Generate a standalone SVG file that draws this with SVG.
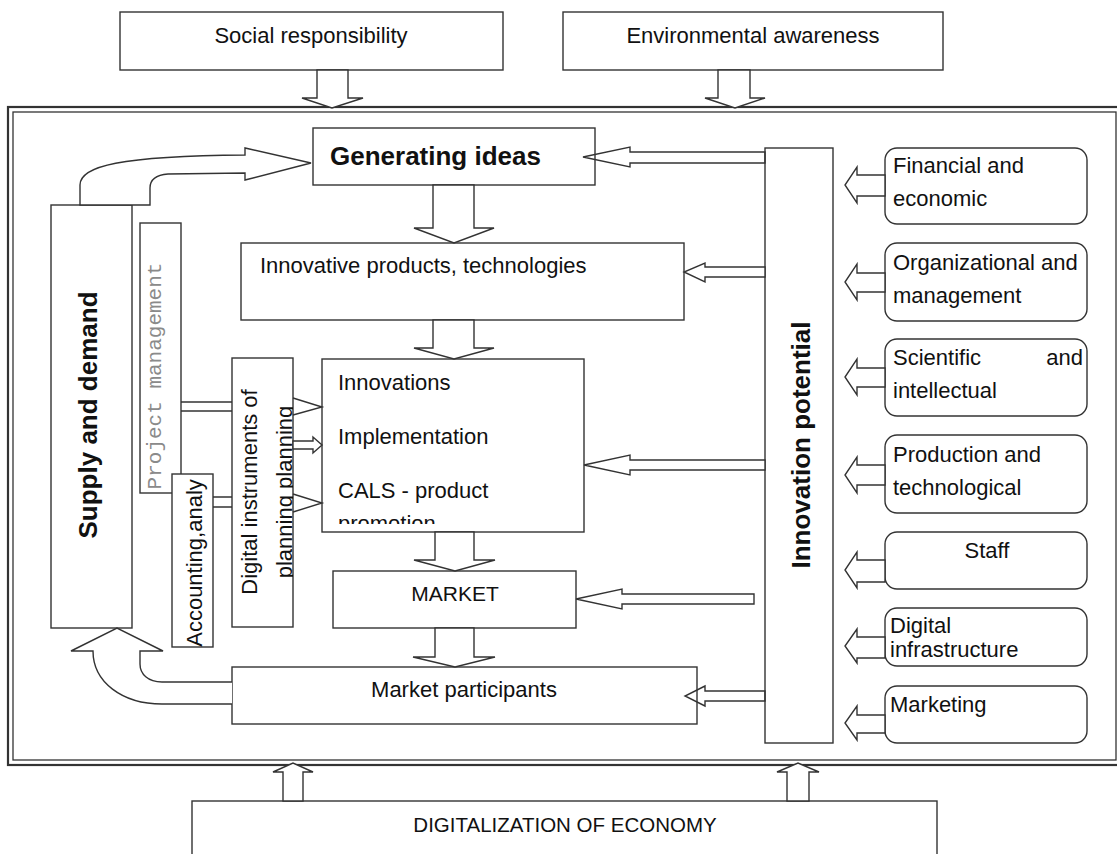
<svg xmlns="http://www.w3.org/2000/svg" width="1117" height="854" viewBox="0 0 1117 854">
<style>
.box{fill:#fff;stroke:#333;stroke-width:1.4}
.rbox{fill:#fff;stroke:#333;stroke-width:1.4}
.t{font-family:"Liberation Sans",Arial,sans-serif;font-size:22px;fill:#111}
.b{font-weight:bold;font-size:26px}
.mono{font-family:"Liberation Mono","Courier New",monospace;font-size:21px;fill:#8a8a8a}
.arr{fill:#fff;stroke:#333;stroke-width:1.4;stroke-linejoin:miter}
.arrn{fill:none;stroke:#333;stroke-width:1.4}
.ln{fill:none;stroke:#333;stroke-width:1.4}
</style>
<defs>
<clipPath id="clipDig"><rect x="232" y="358" width="61" height="269"/></clipPath>
<clipPath id="clipInn"><rect x="322" y="359" width="262" height="165"/></clipPath>
</defs>
<rect width="1117" height="854" fill="#fff"/>

<g id="frame">
<rect x="8" y="107" width="1114" height="658" fill="none" stroke="#333" stroke-width="2.2"/>
<rect x="13" y="112" width="1103" height="648" fill="none" stroke="#333" stroke-width="1.3"/>
</g>

<g id="social"><rect class="box" x="120" y="12" width="383" height="58"/><text class="t" x="311" y="43" text-anchor="middle">Social responsibility</text></g>
<g id="environmental"><rect class="box" x="563" y="12" width="380" height="58"/><text class="t" x="753" y="43" text-anchor="middle">Environmental awareness</text></g>
<g id="digitalization"><rect class="box" x="192" y="801" width="745" height="70"/><text class="t" x="565" y="832" text-anchor="middle" style="font-size:20.5px">DIGITALIZATION OF ECONOMY</text></g>

<g id="generating"><rect class="box" x="313" y="128" width="282" height="57"/><text class="t b" x="330" y="165">Generating ideas</text></g>
<g id="innovative"><rect class="box" x="241" y="243" width="443" height="77"/><text class="t" x="260" y="273">Innovative products, technologies</text></g>
<g id="innovations"><rect class="box" x="322" y="359" width="262" height="173"/>
<g clip-path="url(#clipInn)">
<text class="t" x="338" y="390">Innovations</text>
<text class="t" x="338" y="444">Implementation</text>
<text class="t" x="338" y="498">CALS - product</text>
<text class="t" x="338" y="531">promotion</text>
</g></g>
<g id="market"><rect class="box" x="333" y="571" width="243" height="57"/><text class="t" x="455" y="601" text-anchor="middle" style="font-size:21px">MARKET</text></g>
<g id="participants"><rect class="box" x="232" y="667" width="465" height="57"/><text class="t" x="464" y="697" text-anchor="middle">Market participants</text></g>

<g id="supply"><rect class="box" x="51" y="205" width="81" height="423"/><text class="t b" transform="translate(97,415) rotate(-90)" text-anchor="middle">Supply and demand</text></g>
<g id="project"><rect class="box" x="140" y="223" width="41" height="270"/><text class="mono" transform="translate(161,376) rotate(-90)" text-anchor="middle">Project management</text></g>
<g id="accounting"><rect class="box" x="172" y="474" width="41" height="173"/><text class="t" transform="translate(202,563) rotate(-90)" text-anchor="middle">Accounting,analy</text></g>
<g id="digital-instruments"><rect class="box" x="232" y="358" width="61" height="269"/>
<g clip-path="url(#clipDig)">
<text class="t" transform="translate(257,492) rotate(-90)" text-anchor="middle">Digital instruments of</text>
<text class="t" transform="translate(292,492) rotate(-90)" text-anchor="middle">planning planning</text>
</g></g>

<g id="potential"><rect class="box" x="765" y="148" width="68" height="595"/><text class="t b" transform="translate(810,445) rotate(-90)" text-anchor="middle">Innovation potential</text></g>

<g id="financial"><rect class="rbox" x="885" y="148" width="202" height="76" rx="12"/><text class="t" x="893" y="173">Financial and</text><text class="t" x="893" y="206">economic</text></g>
<g id="organizational"><rect class="rbox" x="885" y="243" width="202" height="78" rx="12"/><text class="t" x="893" y="270">Organizational and</text><text class="t" x="893" y="303">management</text></g>
<g id="scientific"><rect class="rbox" x="885" y="339" width="202" height="77" rx="12"/><text class="t" x="893" y="365">Scientific</text><text class="t" x="1083" y="365" text-anchor="end">and</text><text class="t" x="893" y="398">intellectual</text></g>
<g id="production"><rect class="rbox" x="885" y="435" width="202" height="78" rx="12"/><text class="t" x="893" y="462">Production and</text><text class="t" x="893" y="495">technological</text></g>
<g id="staff"><rect class="rbox" x="885" y="532" width="202" height="57" rx="12"/><text class="t" x="987" y="558" text-anchor="middle">Staff</text></g>
<g id="digital-infra"><rect class="rbox" x="885" y="608" width="202" height="58" rx="12"/><text class="t" x="890" y="633">Digital</text><text class="t" x="890" y="657">infrastructure</text></g>
<g id="marketing"><rect class="rbox" x="885" y="686" width="202" height="57" rx="12"/><text class="t" x="890" y="712">Marketing</text></g>

<g id="connectors">
<!-- top inputs -->
<polygon class="arr" points="317,70 348,70 348,98 363,98 332,108 302,98 317,98"/>
<polygon class="arr" points="718,70 750,70 750,98 765,98 735,108 705,98 718,98"/>
<!-- bottom inputs -->
<polygon class="arr" points="283,801 303,801 303,772 313,772 293,763 273,772 283,772"/>
<polygon class="arr" points="787,801 809,801 809,772 819,772 798,763 777,772 787,772"/>
<!-- vertical flow -->
<polygon class="arr" points="433,185 474,185 474,228 494,228 454,243 414,228 433,228"/>
<polygon class="arr" points="433,320 474,320 474,348 494,348 454,359 414,348 433,348"/>
<polygon class="arr" points="435,532 474,532 474,560 495,560 455,571 414,560 435,560"/>
<polygon class="arr" points="435,628 474,628 474,657 495,657 455,667 413,657 435,657"/>
<!-- supply and demand -> generating ideas -->
<path class="arr" d="M80,205 L80,185 C80,166 120,156 245,155 L245,148 L311,163 L245,180 L245,173 L168,174 C155,175 150,180 150,188 L150,205 Z"/>
<!-- market participants -> supply and demand -->
<path class="arr" d="M232,682 L162,682 C148,682 140,674 140,664 L140,651 L163,651 L117,628 L71,651 L93,651 C93,682 122,704 162,704 L232,704"/>
<!-- project management / accounting -> digital instruments -->
<path class="ln" d="M181,402 L232,402 M181,411 L232,411"/>
<path class="ln" d="M213,497 L232,497 M213,507 L232,507"/>
<!-- digital instruments -> innovations -->
<polyline class="arrn" points="293,398 322,407 293,415"/>
<polygon class="arr" points="293,441 313,441 313,437 322,445 313,453 313,449 293,449"/>
<polyline class="arrn" points="293,494 322,503 293,512"/>
<!-- innovation potential -> left -->
<polygon class="arrn" points="765,152 630,152 630,147 583,157 630,167 630,163 765,163"/>
<polygon class="arr" points="765,267 705,267 705,263 684,272 705,282 705,277 765,277"/>
<polygon class="arr" points="765,460 630,460 630,455 584,465 630,475 630,470 765,470"/>
<polygon class="arr" points="754,594 622,594 622,589 576,599 622,609 622,604 754,604"/>
<polygon class="arrn" points="765,691 705,691 705,686 685,696 705,706 705,701 765,701"/>
<!-- resources -> innovation potential -->
<polygon class="arr" points="885,175 857,175 857,167 845,185 857,203 857,196 885,196"/>
<polygon class="arr" points="885,273 857,273 857,264 845,282 857,300 857,292 885,292"/>
<polygon class="arr" points="885,368 857,368 857,359 845,377 857,395 857,387 885,387"/>
<polygon class="arr" points="885,465 857,465 857,457 845,475 857,493 857,485 885,485"/>
<polygon class="arr" points="885,560 857,560 857,552 845,570 857,588 857,582 885,582"/>
<polygon class="arr" points="885,637 857,637 857,629 845,646 857,663 857,658 885,658"/>
<polygon class="arr" points="885,715 857,715 857,706 845,723 857,740 857,733 885,733"/>
</g>
</svg>
